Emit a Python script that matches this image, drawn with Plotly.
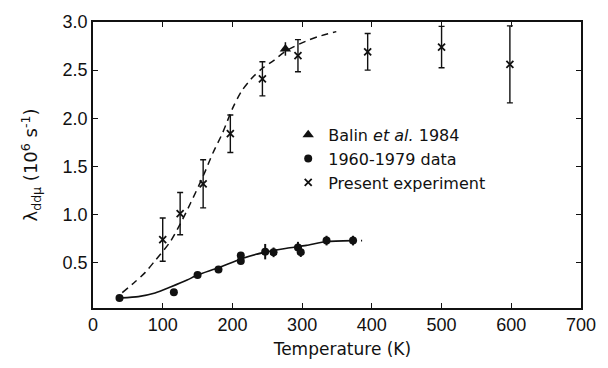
import plotly.graph_objects as go

# Present experiment (x markers with error bars)
present_T = [100, 125, 158, 197, 243, 294, 394, 500, 598]
present_rate = [0.74, 1.01, 1.32, 1.84, 2.41, 2.65, 2.69, 2.74, 2.56]
present_err = [0.225, 0.22, 0.25, 0.195, 0.177, 0.167, 0.19, 0.215, 0.40]

# Balin et al. 1984
balin_T = [276]
balin_rate = [2.72]
balin_err = [0.07]

# 1960-1979 data
old_T = [38, 116, 150, 180, 212, 212, 247, 259, 294, 298, 335, 373]
old_rate = [0.134, 0.193, 0.373, 0.429, 0.576, 0.517, 0.615, 0.608, 0.657, 0.61, 0.73, 0.73]
old_err = [0, 0, 0, 0, 0, 0, 0.08, 0.05, 0.06, 0.05, 0.05, 0.05]

# Fit curve through present experiment (dashed)
fit_present_T = [42, 60, 75, 90, 110, 125, 140, 158, 172, 186, 200, 213, 227, 243, 259, 277, 305, 324, 349]
fit_present_rate = [0.19, 0.30, 0.40, 0.53, 0.71, 0.90, 1.12, 1.40, 1.64, 1.85, 2.10, 2.28, 2.41, 2.52, 2.60, 2.70, 2.80, 2.85, 2.90]

# Fit curve through 1960-1979 data (solid, with short dashed tail)
fit_old_T = [40, 65, 89, 112, 135, 149, 181, 212, 247, 278, 306, 335, 373]
fit_old_rate = [0.135, 0.148, 0.185, 0.25, 0.32, 0.37, 0.45, 0.54, 0.61, 0.65, 0.68, 0.72, 0.73]
tail_T = [373, 386]
tail_rate = [0.73, 0.73]

x_ticks = [0, 100, 200, 300, 400, 500, 600, 700]
y_ticks = [0.5, 1.0, 1.5, 2.0, 2.5, 3.0]
y_ticklabels = ["0.5", "1.0", "1.5", "2.0", "2.5", "3.0"]

BLACK = "#111111"
fig = go.Figure()

fig.add_trace(go.Scatter(x=fit_present_T, y=fit_present_rate, mode="lines",
                         line=dict(color=BLACK, width=1.5, dash="7px,5px", shape="spline", smoothing=0.8),
                         showlegend=False, hoverinfo="skip"))
fig.add_trace(go.Scatter(x=fit_old_T, y=fit_old_rate, mode="lines",
                         line=dict(color=BLACK, width=1.6, shape="spline", smoothing=0.6),
                         showlegend=False, hoverinfo="skip"))
fig.add_trace(go.Scatter(x=tail_T, y=tail_rate, mode="lines",
                         line=dict(color=BLACK, width=1.6, dash="4px,4px"),
                         showlegend=False, hoverinfo="skip"))

fig.add_trace(go.Scatter(x=balin_T, y=balin_rate, mode="markers",
                         name="Balin <i>et al.</i> 1984",
                         marker=dict(symbol="triangle-up", size=10, color=BLACK),
                         error_y=dict(type="data", array=balin_err, color=BLACK, thickness=1.5, width=0)))
fig.add_trace(go.Scatter(x=old_T, y=old_rate, mode="markers",
                         name="1960-1979 data",
                         marker=dict(symbol="circle", size=8, color=BLACK),
                         error_y=dict(type="data", array=old_err, color=BLACK, thickness=2, width=0)))
fig.add_trace(go.Scatter(x=present_T, y=present_rate, mode="markers",
                         name="Present experiment",
                         marker=dict(symbol="x-thin", size=7, color=BLACK,
                                     line=dict(color=BLACK, width=1.8)),
                         error_y=dict(type="data", array=present_err, color=BLACK, thickness=1.4, width=3)))

axis_common = dict(showline=True, linecolor=BLACK, linewidth=1.5, mirror="ticks",
                   ticks="inside", ticklen=5, tickwidth=1.3, tickcolor=BLACK,
                   showgrid=False, zeroline=False,
                   tickfont=dict(family="Liberation Sans", size=18, color=BLACK))

fig.update_xaxes(range=[0, 700], tickvals=x_ticks, ticktext=[str(v) for v in x_ticks],
                 title=dict(text="&nbsp;&nbsp;Temperature (K)", standoff=9,
                            font=dict(family="DejaVu Sans", size=17, color=BLACK)),
                 **axis_common)
fig.update_yaxes(range=[0.03, 3.0], tickvals=y_ticks, ticktext=y_ticklabels,
                 title=dict(text="λ<sub>ddμ</sub> (10<sup>6</sup> s<sup>-1</sup>)", standoff=20,
                            font=dict(family="DejaVu Sans", size=18, color=BLACK)),
                 **axis_common)

fig.update_layout(
    width=608, height=368,
    margin=dict(l=93, r=21, t=13, b=52),
    paper_bgcolor="white", plot_bgcolor="white",
    legend=dict(x=0.40, y=0.665, xanchor="left", yanchor="top",
                bgcolor="rgba(0,0,0,0)",
                font=dict(family="DejaVu Sans", size=16, color=BLACK)),
)

fig.write_html("out.html")
